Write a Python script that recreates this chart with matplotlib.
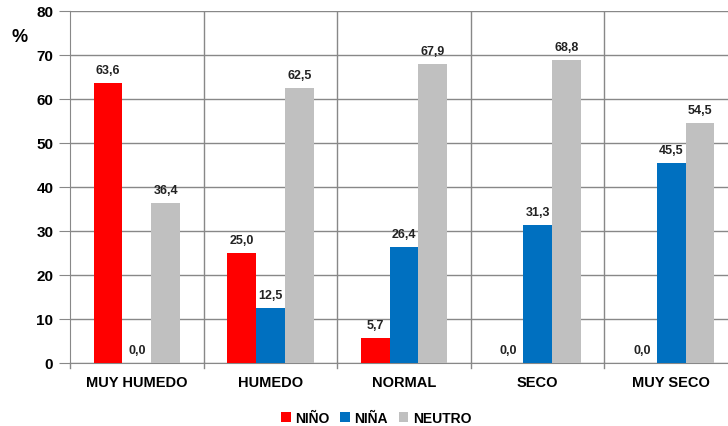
import numpy as np
import matplotlib.pyplot as plt

categorias = ["MUY HUMEDO", "HUMEDO", "NORMAL", "SECO", "MUY SECO"]
nino = [63.6, 25.0, 5.7, 0.0, 0.0]
nina = [0.0, 12.5, 26.4, 31.3, 45.5]
neutro = [36.4, 62.5, 67.9, 68.8, 54.5]
series = ["NIÑO", "NIÑA", "NEUTRO"]
colores = ["#FF0000", "#0070C0", "#C0C0C0"]

plt.rcParams['font.family'] = ['Liberation Sans', 'DejaVu Sans']

fig = plt.figure(figsize=(7.28, 4.27), dpi=100)
# eje ligeramente mas ancho que la figura, como en el original
ax = fig.add_axes([70/728, 1 - 364/427, 668/728, 352/427])

x = np.arange(len(categorias))
w = 0.216
for k, (vals, nom, col) in enumerate(zip([nino, nina, neutro], series, colores)):
    pos = x + (k - 1) * w
    ax.bar(pos, vals, width=w, color=col, label=nom, zorder=3)
    for p, v in zip(pos, vals):
        ax.text(p, v + 1.6, f"{v:.1f}".replace(".", ","), ha="center", va="bottom",
                fontsize=9, fontweight="bold", color="#222222")

ax.set_xlim(-0.5, len(categorias) - 0.5)
ax.set_ylim(0, 80)
ax.set_yticks(range(0, 81, 10))
ax.set_yticklabels([str(v) for v in range(0, 81, 10)], fontsize=11, fontweight="bold")
ax.set_xticks(x)
ax.set_xticklabels(categorias, fontsize=10.5, fontweight="bold")
ax.tick_params(axis="x", length=0, pad=9)
ax.tick_params(axis="y", length=8, color="#888888", pad=4)

# lineas de separacion entre categorias
for b in np.arange(0.5, len(categorias) - 0.5, 1):
    ax.axvline(b, color="#888888", lw=1, zorder=1)
    ax.plot([b, b], [0, -1.2], color="#888888", lw=1, clip_on=False)
ax.plot([-0.5, -0.5], [0, -1.2], color="#888888", lw=1, clip_on=False)
ax.yaxis.grid(True, color="#888888", lw=1, zorder=1)

for s in ["top", "right"]:
    ax.spines[s].set_visible(False)
for s in ["left", "bottom"]:
    ax.spines[s].set_color("#888888")

fig.text(20/728, 1 - 37/427, "%", fontsize=13, fontweight="bold", ha="center", va="center")

fig.legend(loc="center", bbox_to_anchor=(376/728, 1 - 419/427), ncol=3, frameon=False,
           handlelength=0.7, handleheight=0.7, handletextpad=0.3,
           columnspacing=0.8, prop={"weight": "bold", "size": 10})

fig.savefig("out.png", dpi=100)
